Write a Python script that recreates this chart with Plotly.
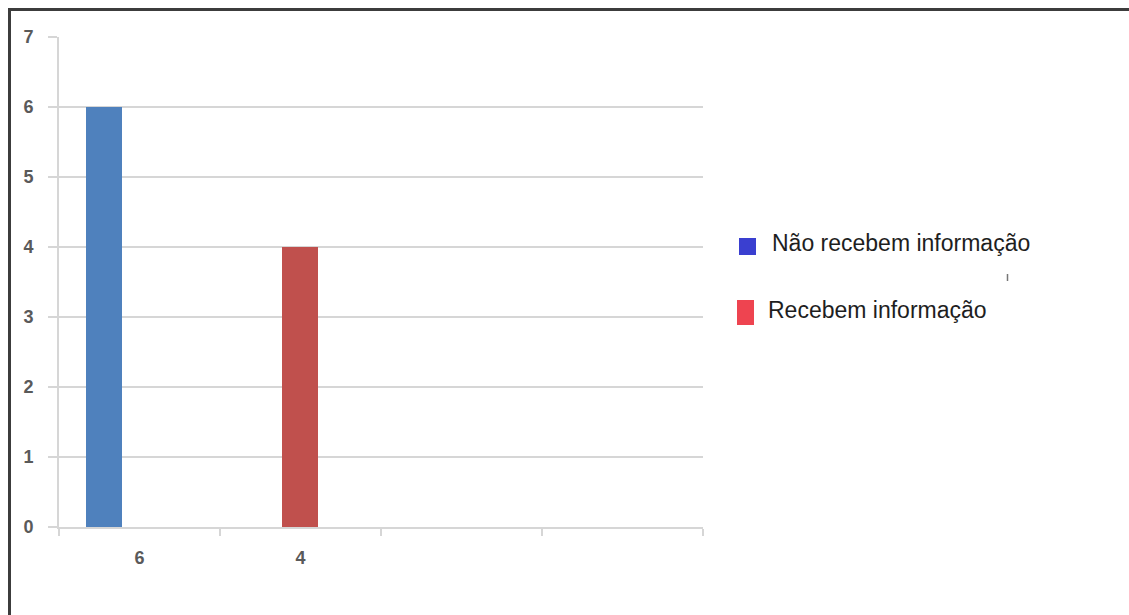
import plotly.graph_objects as go

# Category axis labels (four slots, only the first two are labelled)
categories = ["6", "4", "", ""]
series_names = ["Não recebem informação", "Recebem informação"]
nao_recebem = [6]   # value in the first category
recebem = [4]       # value in the second category

bar_colors = ["#4f81bd", "#c0504d"]
legend_colors = ["#3a3fd0", "#ee4450"]

W, H = 1129, 615
L, R, T, B = 59, 426, 37, 88
plot_w, plot_h = W - L - R, H - T - B


def px(x):
    return (x - L) / plot_w


def py(y):
    return (H - B - y) / plot_h


fig = go.Figure()
fig.add_trace(go.Bar(
    x=[0], y=nao_recebem, name=series_names[0],
    marker=dict(color=bar_colors[0], line=dict(width=0)),
    width=0.224, offset=-0.332, showlegend=False,
))
fig.add_trace(go.Bar(
    x=[1], y=recebem, name=series_names[1],
    marker=dict(color=bar_colors[1], line=dict(width=0)),
    width=0.224, offset=-0.115, showlegend=False,
))

grid = "#d6d6d6"
tick_font = dict(family="Liberation Sans", size=18, color="#5a5a5a", weight="bold")

fig.update_xaxes(
    range=[-0.5, len(categories) - 0.5],
    tickvals=list(range(len(categories))), ticktext=categories,
    ticks="", showgrid=False, zeroline=False,
    showline=True, linecolor=grid, linewidth=2,
    tickfont=tick_font, ticklabelstandoff=13,
    minor=dict(tick0=-0.5, dtick=1, ticks="outside", ticklen=7,
               tickcolor=grid, tickwidth=2, showgrid=False),
)
fig.update_yaxes(
    range=[0, 7], dtick=1, tick0=0,
    showgrid=True, gridcolor=grid, gridwidth=2,
    zeroline=False, showline=True, linecolor=grid, linewidth=2,
    ticks="outside", ticklen=9, tickcolor=grid, tickwidth=2,
    tickfont=tick_font, ticklabelstandoff=11,
)

shapes = [
    # frame: top and left edges
    dict(type="line", xref="paper", yref="paper", x0=px(8), x1=px(1140),
         y0=py(9.5), y1=py(9.5), line=dict(color="#3c3c3c", width=3)),
    dict(type="line", xref="paper", yref="paper", x0=px(9.5), x1=px(9.5),
         y0=py(8), y1=py(630), line=dict(color="#3c3c3c", width=3)),
    # legend swatches
    dict(type="rect", xref="paper", yref="paper", x0=px(739), x1=px(756),
         y0=py(238), y1=py(255), fillcolor=legend_colors[0], line=dict(width=0)),
    dict(type="rect", xref="paper", yref="paper", x0=px(737), x1=px(754),
         y0=py(300), y1=py(325), fillcolor=legend_colors[1], line=dict(width=0)),
    # small stray mark beside the legend
    dict(type="line", xref="paper", yref="paper", x0=px(1007.5), x1=px(1007.5),
         y0=py(274), y1=py(281), line=dict(color="#777777", width=1.5)),
]

legend_font = dict(family="Liberation Sans", size=23, color="#1e1e1e")
annotations = [
    dict(xref="paper", yref="paper", x=px(770), y=py(243), text=series_names[0],
         showarrow=False, xanchor="left", yanchor="middle", font=legend_font),
    dict(xref="paper", yref="paper", x=px(766), y=py(310), text=series_names[1],
         showarrow=False, xanchor="left", yanchor="middle", font=legend_font),
]

fig.update_layout(
    width=W, height=H,
    margin=dict(l=L, r=R, t=T, b=B, pad=0),
    paper_bgcolor="white", plot_bgcolor="white",
    barmode="overlay", bargap=0,
    shapes=shapes, annotations=annotations,
    showlegend=False,
)

fig.write_html("out.html")
